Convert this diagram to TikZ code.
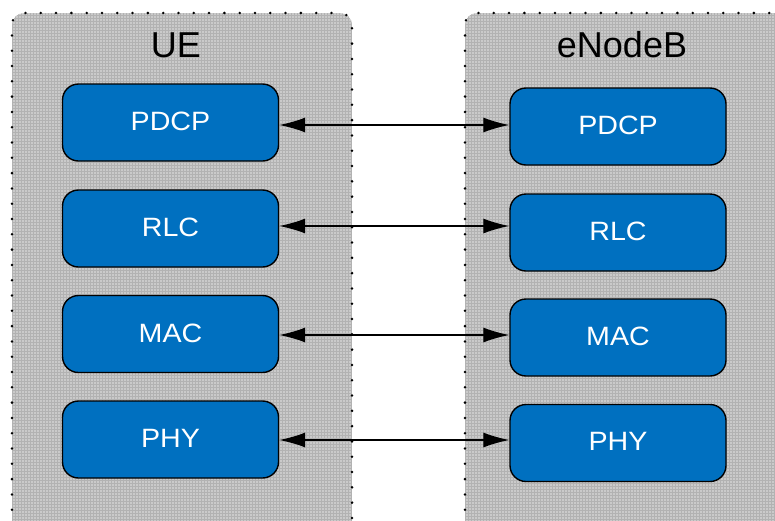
\documentclass[tikz,border=0pt]{standalone}
\usepackage{fontspec}
\setmainfont{Liberation Sans}
\usetikzlibrary{arrows.meta}
\definecolor{boxblue}{HTML}{0070C0}
\definecolor{panelgray}{HTML}{CACACA}
\definecolor{panelgrid}{HTML}{B2B2B2}
% slightly widened, slightly raised lettering for the layer labels
\newcommand{\widelabel}[1]{\raisebox{2.5pt}{\scalebox{1.08}[1]{#1}}}
\tikzset{
  panelrim/.style={line width=2.8pt, dash pattern=on 0pt off 15.3pt, line cap=round},
  layerbox/.style={draw=black, line width=1.4pt, fill=boxblue, rounded corners=16pt,
    minimum width=216pt, minimum height=77pt, text=white, font=\fontsize{26.5}{30}\selectfont},
  paneltitle/.style={font=\fontsize{36}{40}\selectfont, text=black},
  link/.style={line width=1.3pt, {Latex[length=26pt,width=15pt]}-{Latex[length=26pt,width=15pt]}}
}
\begin{document}
\begin{tikzpicture}[x=1pt,y=-1pt]
\useasboundingbox (0,0) rectangle (775,520);
% shaded side panels with fine grid texture
\foreach \xa/\xb in {12/352, 465/790}{
  \begin{scope}
    \clip[rounded corners=12pt] (\xa,13) rectangle (\xb,540);
    \fill[panelgray] (\xa,13) rectangle (\xb,540);
    \draw[panelgrid, line width=0.5pt, step=3pt] (\xa,10) grid (\xb,540);
  \end{scope}
  \draw[panelrim, rounded corners=12pt] (\xa,525) -- (\xa,13) -- (\xb,13) -- (\xb,525);
}
\node[paneltitle] (ue) at (176,45) {UE};
\node[paneltitle] (enb) at (622,45) {eNodeB};
% protocol layers
\node[layerbox] (uepdcp) at (170.5,122.5) {\widelabel{PDCP}};
\node[layerbox] (uerlc)  at (170.5,228.5) {\widelabel{RLC}};
\node[layerbox] (uemac)  at (170.5,334) {\widelabel{MAC}};
\node[layerbox] (uephy)  at (170.5,439.5) {\widelabel{PHY}};
\node[layerbox] (enpdcp) at (618,126.5) {\widelabel{PDCP}};
\node[layerbox] (enrlc)  at (618,232.5) {\widelabel{RLC}};
\node[layerbox] (enmac)  at (618,337.5) {\widelabel{MAC}};
\node[layerbox] (enphy)  at (618,443) {\widelabel{PHY}};
% peer links
\coordinate (a1) at (278,125); \coordinate (b1) at (510,125);
\coordinate (a2) at (278,226); \coordinate (b2) at (510,226);
\coordinate (a3) at (278,335); \coordinate (b3) at (510,335);
\coordinate (a4) at (278,440); \coordinate (b4) at (510,440);
\draw[link] (uepdcp.east |- a1) -- (enpdcp.west |- b1);
\draw[link] (uerlc.east |- a2) -- (enrlc.west |- b2);
\draw[link] (uemac.east |- a3) -- (enmac.west |- b3);
\draw[link] (uephy.east |- a4) -- (enphy.west |- b4);
\end{tikzpicture}
\end{document}
